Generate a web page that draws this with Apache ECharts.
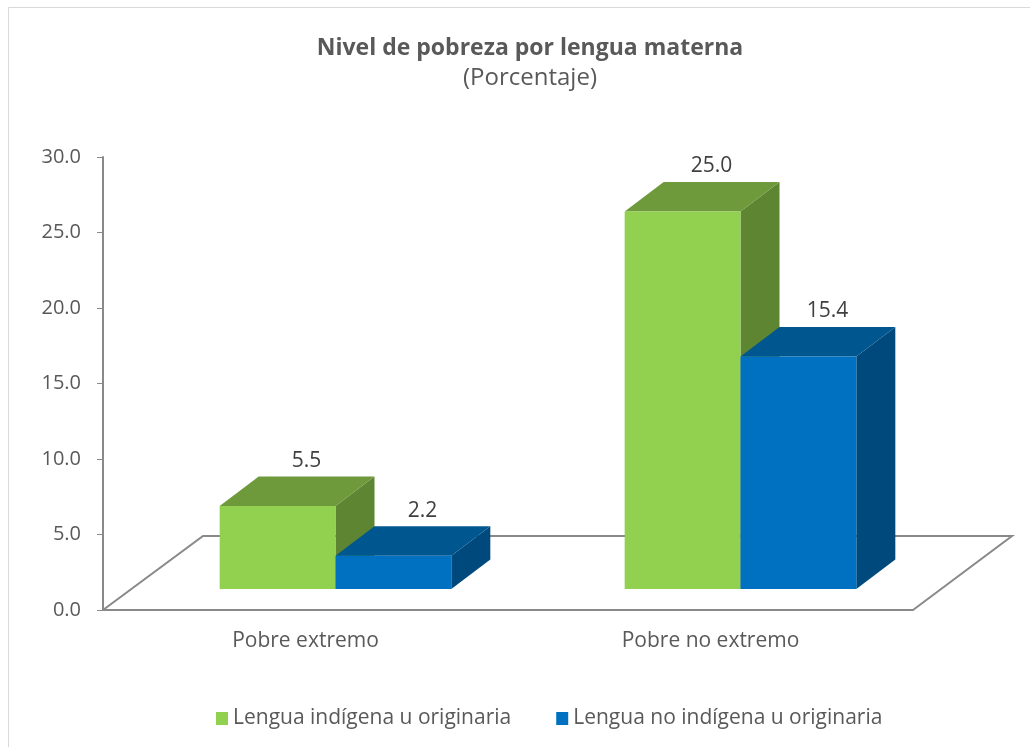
<!DOCTYPE html>
<html>
<head>
<meta charset="utf-8">
<script src="https://cdn.jsdelivr.net/npm/echarts@6/dist/echarts.min.js"></script>
<style>
  html, body { margin: 0; padding: 0; background: #fff; }
  #main { width: 1030px; height: 747px; }
</style>
</head>
<body>
<div id="main"></div>
<script>
// data
var categories = ['Pobre extremo', 'Pobre no extremo'];
var seriesNames = ['Lengua indígena u originaria', 'Lengua no indígena u originaria'];
var indigena = [5.5, 25.0];
var noIndigena = [2.2, 15.4];
var yTicks = [0, 30, 5]; // min, max, step

var font = 'Open Sans';
var textColor = '#595959';
var axisGray = '#898989';

// colours per series: front / top / side
var faces = [
    { front: '#92D050', top: '#6E9A3C', side: '#5E8532' },
    { front: '#0070C0', top: '#00578F', side: '#00497D' }
];

// 3d geometry (pixels)
var floorDepth = [100, -74];
var barOffset = [30, -21];
var barDepth = [39, -29.5];
var barFrac = 0.286;

function boxItem(seriesIdx) {
    return function (params, api) {
        var cat = api.value(0);
        var val = api.value(1);
        var base = api.coord([cat, 0]);
        var top = api.coord([cat, val]);
        var bandW = api.size([1, 0])[0];
        var bw = bandW * barFrac;
        var x0 = base[0] + barOffset[0] - bw + seriesIdx * bw;
        var yb = base[1] + barOffset[1];
        var yt = top[1] + barOffset[1];
        var dx = barDepth[0], dy = barDepth[1];
        var c = faces[seriesIdx];
        return {
            type: 'group',
            children: [
                { type: 'polygon', shape: { points: [[x0 + bw, yt], [x0 + bw + dx, yt + dy], [x0 + bw + dx, yb + dy], [x0 + bw, yb]] }, style: { fill: c.side } },
                { type: 'polygon', shape: { points: [[x0, yt], [x0 + bw, yt], [x0 + bw + dx, yt + dy], [x0 + dx, yt + dy]] }, style: { fill: c.top } },
                { type: 'rect', shape: { x: x0, y: yt, width: bw, height: yb - yt }, style: { fill: c.front } },
                { type: 'text', x: x0 + bw / 2 + 29, y: yt - 45, style: {
                    text: val.toFixed(1), fill: '#404040', font: '21px "' + font + '"',
                    align: 'center', verticalAlign: 'middle' } }
            ]
        };
    };
}

function floorItem(params, api) {
    var cs = params.coordSys;
    var x = cs.x, y = cs.y + cs.height, w = cs.width;
    var dx = floorDepth[0], dy = floorDepth[1];
    return {
        type: 'polyline',
        shape: { points: [[x, y], [x + dx, y + dy], [x + w + dx - 1, y + dy], [x + w, y]] },
        style: { stroke: axisGray, lineWidth: 2, fill: null }
    };
}

var chart = echarts.init(document.getElementById('main'), null, { renderer: 'canvas' });
chart.setOption({
    backgroundColor: '#fff',
    animation: false,
    title: [{
        text: 'Nivel de pobreza por lengua materna',
        left: 525, top: 32, textAlign: 'center',
        textStyle: { fontFamily: font, fontSize: 23, fontWeight: 'bold', color: textColor }
    }, {
        text: '(Porcentaje)',
        left: 525, top: 61, textAlign: 'center',
        textStyle: { fontFamily: font, fontSize: 24, fontWeight: 'normal', color: textColor }
    }],
    graphic: [
        { type: 'polyline', shape: { points: [[8.5, 747], [8.5, 7.5], [1030, 7.5]] }, style: { stroke: '#d9d9d9', lineWidth: 1, fill: null } }
    ],
    legend: {
        data: seriesNames,
        left: 211, top: 703,
        itemWidth: 12, itemHeight: 13, itemGap: 45,
        icon: 'rect',
        textStyle: { fontFamily: font, fontSize: 21, color: textColor }
    },
    grid: { left: 103, right: 117, top: 157, bottom: 137 },
    xAxis: {
        type: 'category',
        data: categories,
        axisLine: { lineStyle: { color: axisGray, width: 2 } },
        axisTick: { show: false },
        axisLabel: { fontFamily: font, fontSize: 21, color: textColor, margin: 21 }
    },
    yAxis: {
        type: 'value',
        min: yTicks[0], max: yTicks[1], interval: yTicks[2],
        axisLine: { show: true, lineStyle: { color: axisGray, width: 2 } },
        axisTick: { show: true, length: 6, lineStyle: { color: axisGray, width: 1 } },
        splitLine: { show: false },
        axisLabel: { fontFamily: font, fontSize: 20, color: textColor, margin: 22,
            formatter: function (v) { return v.toFixed(1); } }
    },
    series: [
        { name: 'floor', type: 'custom', renderItem: floorItem, data: [[0, 0]], z: 1, silent: true },
        { name: seriesNames[0], type: 'custom', renderItem: boxItem(0), itemStyle: { color: faces[0].front },
          data: indigena.map(function (v, i) { return [i, v]; }), z: 2 },
        { name: seriesNames[1], type: 'custom', renderItem: boxItem(1), itemStyle: { color: faces[1].front },
          data: noIndigena.map(function (v, i) { return [i, v]; }), z: 2 }
    ]
});
</script>
</body>
</html>
